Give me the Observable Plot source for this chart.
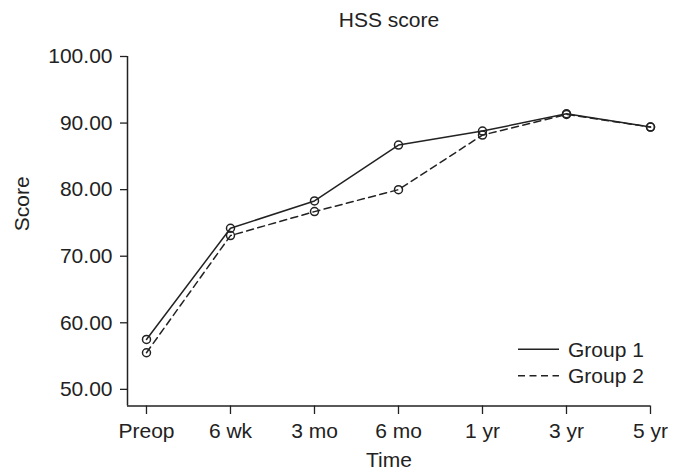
<!DOCTYPE html>
<html>
<head>
<meta charset="utf-8">
<script src="https://cdn.jsdelivr.net/npm/d3@7"></script>
<script src="https://cdn.jsdelivr.net/npm/@observablehq/plot@0.6"></script>
<style>
  html, body { margin: 0; padding: 0; background: #fff; }
  #chart svg { display: block; }
</style>
</head>
<body>
<div id="chart"></div>
<script>
const times = ["Preop", "6 wk", "3 mo", "6 mo", "1 yr", "3 yr", "5 yr"];
const group1 = [57.5, 74.2, 78.3, 86.7, 88.8, 91.4, 89.4];
const group2 = [55.5, 73.1, 76.7, 80.0, 88.2, 91.3, 89.4];
const yTicks = [50, 60, 70, 80, 90, 100];
const seriesNames = ["Group 1", "Group 2"];
const titleText = "HSS score";
const xLabel = "Time";
const yLabel = "Score";

const data = [];
times.forEach((t, i) => {
  data.push({i, time: t, group: seriesNames[0], value: group1[i]});
  data.push({i, time: t, group: seriesNames[1], value: group2[i]});
});

const xMin = -0.226, xMax = times.length - 1;
const yMin = 47.5, yMax = 100;
const ink = "#222";
const font = "'Liberation Sans', Arial, Helvetica, sans-serif";
const fs = 21;
const dashFor = g => g === seriesNames[1] ? "7,4.5" : null;

const plot = Plot.plot({
  width: 679,
  height: 471,
  marginLeft: 127,
  marginRight: 29,
  marginTop: 56,
  marginBottom: 65.5,
  style: {fontFamily: font, fontSize: fs + "px", color: ink, background: "#fff"},
  x: {type: "linear", domain: [xMin, xMax]},
  y: {domain: [yMin, yMax]},
  marks: [
    Plot.axisX({ticks: d3.range(times.length), tickFormat: i => times[i], tickSize: 8.5, tickPadding: 9, label: null, stroke: ink, strokeWidth: 1.3, fontSize: fs}),
    Plot.axisY({ticks: yTicks, tickFormat: d3.format(".2f"), tickSize: 7, tickPadding: 8, label: null, stroke: ink, strokeWidth: 1.3, fontSize: fs}),
    Plot.ruleX([xMin], {stroke: ink, strokeWidth: 1.5}),
    Plot.ruleY([yMin], {stroke: ink, strokeWidth: 1.5}),
    Plot.line(data.filter(d => d.group === seriesNames[0]), {x: "i", y: "value", stroke: ink, strokeWidth: 1.5}),
    Plot.line(data.filter(d => d.group === seriesNames[1]), {x: "i", y: "value", stroke: ink, strokeWidth: 1.5, strokeDasharray: "7,4.5"}),
    Plot.dot(data, {x: "i", y: "value", r: 4, stroke: ink, strokeWidth: 1.5, fill: "none"}),
    Plot.text([titleText], {frameAnchor: "top", lineAnchor: "middle", dy: -36, fontSize: fs, fill: ink}),
    Plot.text([xLabel], {frameAnchor: "bottom", lineAnchor: "middle", dy: 54.5, fontSize: fs, fill: ink}),
    Plot.text([yLabel], {frameAnchor: "left", lineAnchor: "middle", dx: -105, rotate: -90, fontSize: fs, fill: ink})
  ]
});

document.getElementById("chart").appendChild(plot);

// Legend inside the plot area (lower right)
const svg = d3.select(plot);
const legend = svg.append("g")
  .attr("font-family", font).attr("font-size", fs)
  .attr("fill", ink).attr("text-anchor", "start");
const fx = plot.scale("x"), fy = plot.scale("y");
const right = fx.range[1];
const top0 = fy.range[1] + (fy.range[0] - fy.range[1]) * 0.839;
seriesNames.forEach((name, k) => {
  const yy = top0 + k * 26.5;
  legend.append("line")
    .attr("x1", right - 132).attr("x2", right - 91)
    .attr("y1", yy).attr("y2", yy)
    .attr("stroke", ink).attr("stroke-width", 1.5)
    .attr("stroke-dasharray", dashFor(name));
  legend.append("text")
    .attr("x", right - 82).attr("y", yy)
    .attr("dy", "0.35em")
    .text(name);
});
</script>
</body>
</html>
